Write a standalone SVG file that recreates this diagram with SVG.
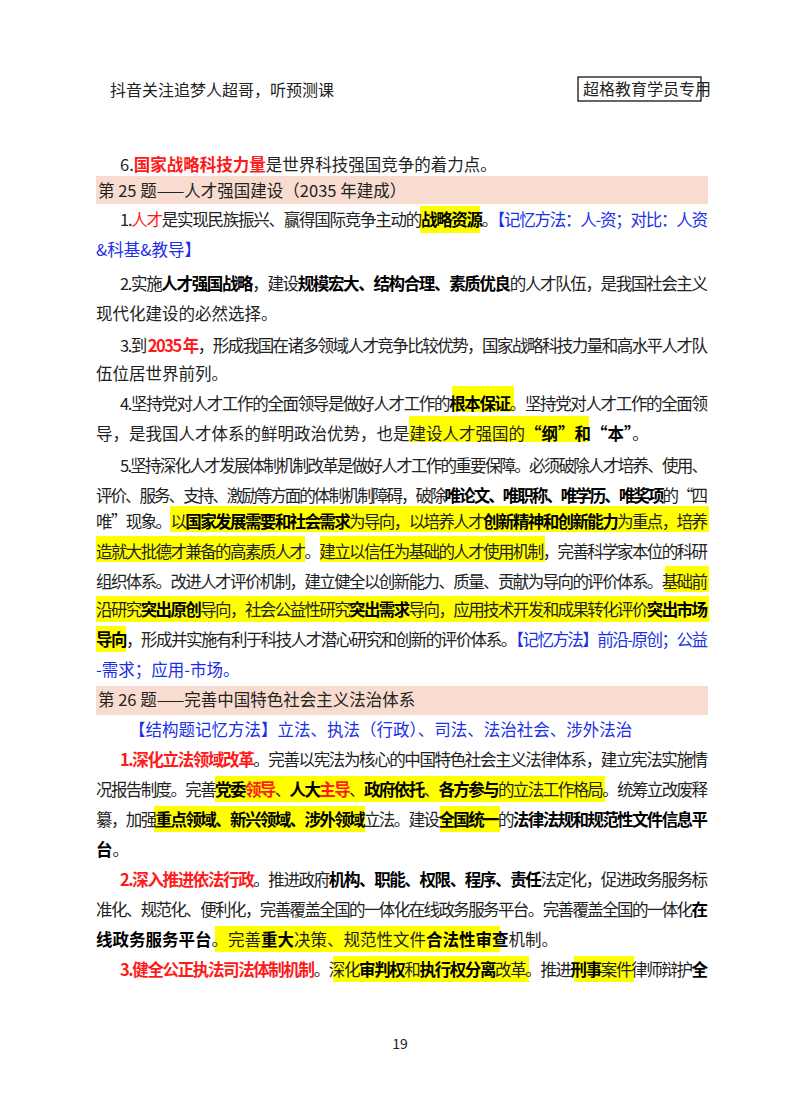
<svg xmlns="http://www.w3.org/2000/svg" width="800" height="1114" viewBox="0 0 800 1114">
<style>
text{font-family:"Noto Sans CJK SC","Liberation Serif",sans-serif;font-size:16.5px;fill:#222}
.b{font-weight:bold;fill:#000}
.r{font-weight:bold;fill:#ff1a1a}
.rn{fill:#ff1a1a}
.bl{fill:#1a2fe6}
.hl{fill:#ffff00}
.band{fill:#f8dccf}
</style>
<rect width="800" height="1114" fill="#fff"/>
<g id="header">
<text x="110" y="96" style="font-size:16px">抖音关注追梦人超哥，听预测课</text>
<rect x="578" y="77" width="123" height="24" fill="#fff" stroke="#000" stroke-width="1.2"/>
<text x="583" y="95" style="font-size:16px">超格教育学员专用</text>
</g>
<g id="highlights">
<rect class="band" x="96" y="176" width="612" height="28"/>
<rect class="band" x="96" y="686" width="612" height="29"/>
<rect class="hl" x="420" y="206" width="60" height="27"/>
<rect class="hl" x="452" y="386" width="62" height="26"/>
<rect class="hl" x="409" y="416" width="180" height="26"/>
<rect class="hl" x="170" y="506" width="539" height="26"/>
<rect class="hl" x="96" y="536" width="209" height="26"/>
<rect class="hl" x="320" y="536" width="225" height="26"/>
<rect class="hl" x="665" y="566" width="44" height="26"/>
<rect class="hl" x="96" y="596" width="613" height="26"/>
<rect class="hl" x="96" y="626" width="30" height="26"/>
<rect class="hl" x="215" y="776" width="390" height="26"/>
<rect class="hl" x="154" y="806" width="211" height="26"/>
<rect class="hl" x="440" y="806" width="60" height="26"/>
<rect class="hl" x="215" y="926" width="285" height="26"/>
<rect class="hl" x="333" y="956" width="196" height="26"/>
<rect class="hl" x="574" y="956" width="60" height="26"/>
</g>
<g id="body">
<text x="120" y="171">6.<tspan class="r">国家战略科技力量</tspan>是世界科技强国竞争的着力点。</text>
<text x="98" y="197">第 25 题——人才强国建设（2035 年建成）</text>
<text x="120" y="226" textLength="588" lengthAdjust="spacing">1.<tspan class="rn">人才</tspan>是实现民族振兴、赢得国际竞争主动的<tspan class="b">战略资源</tspan>。<tspan class="bl">【记忆方法：人-资；对比：人资</tspan></text>
<text x="96" y="256" class="bl">&amp;科基&amp;教导】</text>
<text x="120" y="290" textLength="588" lengthAdjust="spacing">2.实施<tspan class="b">人才强国战略</tspan>，建设<tspan class="b">规模宏大、结构合理、素质优良</tspan>的人才队伍，是我国社会主义</text>
<text x="96" y="320">现代化建设的必然选择。</text>
<text x="120" y="352" textLength="588" lengthAdjust="spacing">3.到 <tspan class="r">2035 年</tspan>，形成我国在诸多领域人才竞争比较优势，国家战略科技力量和高水平人才队</text>
<text x="96" y="380">伍位居世界前列。</text>
<text x="120" y="410" textLength="588" lengthAdjust="spacing">4.坚持党对人才工作的全面领导是做好人才工作的<tspan class="b">根本保证</tspan>。坚持党对人才工作的全面领</text>
<text x="96" y="440">导，是我国人才体系的鲜明政治优势，也是建设人才强国的<tspan class="b">“纲”和“本”</tspan>。</text>
<text x="120" y="472" textLength="588" lengthAdjust="spacing">5.坚持深化人才发展体制机制改革是做好人才工作的重要保障。必须破除人才培养、使用、</text>
<text x="96" y="502" textLength="612" lengthAdjust="spacing">评价、服务、支持、激励等方面的体制机制障碍，破除<tspan class="b">唯论文、唯职称、唯学历、唯奖项</tspan>的“四</text>
<text x="96" y="528" textLength="612" lengthAdjust="spacing">唯”现象。以<tspan class="b">国家发展需要和社会需求</tspan>为导向，以培养人才<tspan class="b">创新精神和创新能力</tspan>为重点，培养</text>
<text x="96" y="558" textLength="612" lengthAdjust="spacing">造就大批德才兼备的高素质人才。建立以信任为基础的人才使用机制，完善科学家本位的科研</text>
<text x="96" y="588" textLength="612" lengthAdjust="spacing">组织体系。改进人才评价机制，建立健全以创新能力、质量、贡献为导向的评价体系。基础前</text>
<text x="96" y="616" textLength="612" lengthAdjust="spacing">沿研究<tspan class="b">突出原创</tspan>导向，社会公益性研究<tspan class="b">突出需求</tspan>导向，应用技术开发和成果转化评价<tspan class="b">突出市场</tspan></text>
<text x="96" y="646" textLength="612" lengthAdjust="spacing"><tspan class="b">导向</tspan>，形成并实施有利于科技人才潜心研究和创新的评价体系。<tspan class="bl">【记忆方法】前沿-原创；公益</tspan></text>
<text x="96" y="676" class="bl">-需求；应用-市场。</text>
<text x="98" y="706">第 26 题——完善中国特色社会主义法治体系</text>
<text x="129" y="736" class="bl">【结构题记忆方法】立法、执法（行政）、司法、法治社会、涉外法治</text>
<text x="120" y="766" textLength="588" lengthAdjust="spacing"><tspan class="r">1.深化立法领域改革</tspan>。完善以宪法为核心的中国特色社会主义法律体系，建立宪法实施情</text>
<text x="96" y="796" textLength="612" lengthAdjust="spacing">况报告制度。完善<tspan class="b">党委</tspan><tspan class="r">领导</tspan>、<tspan class="b">人大</tspan><tspan class="r">主导</tspan>、<tspan class="b">政府依托</tspan>、<tspan class="b">各方参与</tspan>的立法工作格局。统筹立改废释</text>
<text x="96" y="826" textLength="612" lengthAdjust="spacing">纂，加强<tspan class="b">重点领域、新兴领域、涉外领域</tspan>立法。建设<tspan class="b">全国统一</tspan>的<tspan class="b">法律法规和规范性文件信息平</tspan></text>
<text x="96" y="856"><tspan class="b">台</tspan>。</text>
<text x="120" y="886" textLength="588" lengthAdjust="spacing"><tspan class="r">2.深入推进依法行政</tspan>。推进政府<tspan class="b">机构、职能、权限、程序、责任</tspan>法定化，促进政务服务标</text>
<text x="96" y="916" textLength="612" lengthAdjust="spacing">准化、规范化、便利化，完善覆盖全国的一体化在线政务服务平台。完善覆盖全国的一体化<tspan class="b">在</tspan></text>
<text x="96" y="946"><tspan class="b">线政务服务平台</tspan>。完善<tspan class="b">重大</tspan>决策、规范性文件<tspan class="b">合法性审查</tspan>机制。</text>
<text x="120" y="976" textLength="588" lengthAdjust="spacing"><tspan class="r">3.健全公正执法司法体制机制</tspan>。深化<tspan class="b">审判权</tspan>和<tspan class="b">执行权分离</tspan>改革。推进<tspan class="b">刑事</tspan>案件律师辩护<tspan class="b">全</tspan></text>
</g>
<text x="400" y="1049" text-anchor="middle" style="font-size:14px">19</text>
</svg>
